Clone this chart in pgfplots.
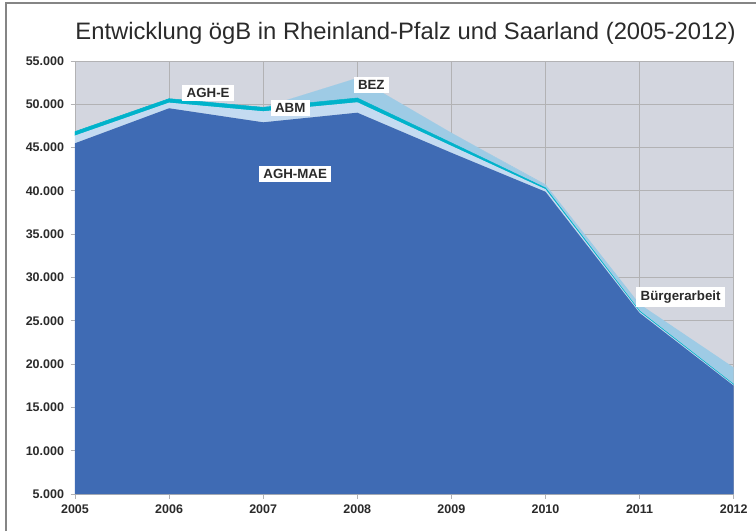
\documentclass[border=0pt]{standalone}
\usepackage{pgfplots}
\pgfplotsset{compat=1.18}
\usepackage{fontspec}
\setmainfont{Liberation Sans}
\definecolor{bg}{HTML}{D3D6DF}
\definecolor{grd}{HTML}{B2B2B4}
\definecolor{dkb}{HTML}{3F6BB4}
\definecolor{abm}{HTML}{C4DBF1}
\definecolor{cyn}{HTML}{00B3CB}
\definecolor{bez}{HTML}{9ECBE5}
\definecolor{txt}{HTML}{2A2A2A}
\definecolor{frm}{HTML}{858585}
\tikzset{lbl/.style={fill=white, text=txt, font=\fontsize{13.3}{13.3}\selectfont\bfseries, inner xsep=4.5pt, inner ysep=3.5pt}}
\begin{document}
\begin{tikzpicture}[x=1pt,y=1pt]
\path[use as bounding box] (0,0) rectangle (756,531);
\draw[frm, line width=1.5pt] (6,0) -- (6,528) -- (756,528);
\node[anchor=base, text=txt, font=\fontsize{23.8}{23.8}\selectfont, inner sep=0pt] at (405.5,491.5) {Entwicklung ögB in Rheinland-Pfalz und Saarland (2005-2012)};
\begin{axis}[
  at={(75pt,37pt)}, anchor=south west,
  width=658.7pt, height=433pt, scale only axis,
  xmin=2005, xmax=2012, ymin=5000, ymax=55000,
  scaled y ticks=false,
  xtick={2005,2006,2007,2008,2009,2010,2011,2012},
  xticklabels={2005,2006,2007,2008,2009,2010,2011,2012},
  ytick={5000,10000,15000,20000,25000,30000,35000,40000,45000,50000,55000},
  yticklabels={5.000,10.000,15.000,20.000,25.000,30.000,35.000,40.000,45.000,50.000,55.000},
  grid=major, grid style={grd, line width=0.9pt},
  axis background/.style={fill=bg},
  axis line style={grd, line width=0.9pt},
  tick style={grd, line width=0.9pt},
  tick align=outside, major tick length=4.5pt,
  xtick pos=bottom, ytick pos=left,
  ticklabel style={font=\fontsize{12.5}{12.5}\selectfont\bfseries, text=txt},
  yticklabel style={xshift=-3pt},
  xticklabel style={yshift=-3pt},
  stack plots=y,
  after end axis/.code={
    \node[lbl] at (axis cs:2006.415,51300) {AGH-E};
    \node[lbl] at (axis cs:2007.287,49570) {ABM};
    \node[lbl] at (axis cs:2008.149,52230) {BEZ};
    \node[lbl] at (axis cs:2007.34,41950) {AGH-MAE};
    \node[lbl] at (axis cs:2011.436,27750) {Bürgerarbeit};
  },
]
\addplot[fill=dkb, draw=none] coordinates {(2005,45500) (2006,49540) (2007,47920) (2008,49030) (2009,44400) (2010,39900) (2011,25900) (2012,17500)} \closedcycle;
\addplot[fill=abm, draw=none] coordinates {(2005,890) (2006,650) (2007,1270) (2008,1200) (2009,800) (2010,300) (2011,150) (2012,100)} \closedcycle;
\addplot[fill=cyn, draw=cyn, line width=0.5pt] coordinates {(2005,460) (2006,460) (2007,460) (2008,500) (2009,350) (2010,150) (2011,80) (2012,60)} \closedcycle;
\addplot[fill=bez, draw=none] coordinates {(2005,0) (2006,0) (2007,0) (2008,2300) (2009,1150) (2010,300) (2011,100) (2012,50)} \closedcycle;
\addplot[fill=bez, draw=none] coordinates {(2005,0) (2006,0) (2007,0) (2008,0) (2009,0) (2010,100) (2011,700) (2012,1900)} \closedcycle;
\end{axis}
\end{tikzpicture}
\end{document}
